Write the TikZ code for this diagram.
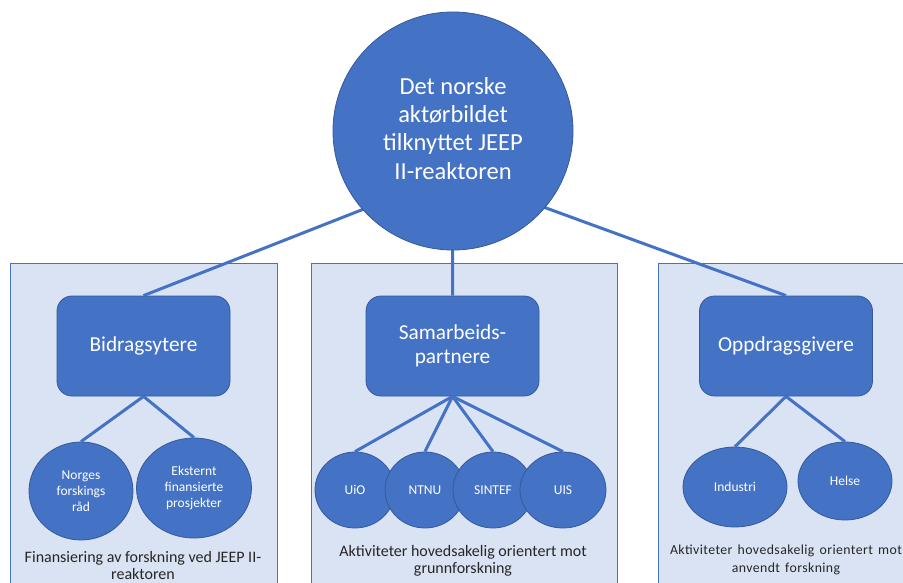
\documentclass[tikz,border=0pt]{standalone}
\usepackage{fontspec}
\setmainfont{Carlito}
\usetikzlibrary{shapes.geometric}
\definecolor{accent}{HTML}{4472C4}
\definecolor{accentdark}{HTML}{35599B}
\definecolor{panelfill}{HTML}{DAE3F3}
\definecolor{captiontext}{HTML}{262626}
\newcommand{\widecaptionfont}{\fontsize{13.8}{18.3}\selectfont
  \addfontfeature{LetterSpace=3}\spaceskip=5.2pt\relax}
\tikzset{
  px/.style={x=1pt,y=-1pt},
  panel/.style={draw=accent, line width=0.9pt, fill=panelfill},
  link/.style={draw=accent, line width=3pt},
  topnode/.style={ellipse, fill=accent, draw=accentdark, line width=0.8pt,
    minimum width=240pt, minimum height=238pt, inner sep=0pt,
    text=white, align=center, font=\fontsize{24.5}{28.3}\selectfont},
  groupbox/.style={rectangle, rounded corners=15pt, fill=accent, draw=accentdark,
    line width=0.8pt, minimum width=173pt, minimum height=100pt, inner sep=0pt,
    text=white, align=center, font=\fontsize{21.3}{23.5}\selectfont},
  member/.style={ellipse, fill=accent, draw=accentdark, line width=0.8pt,
    inner sep=0pt, text=white, align=center, font=\fontsize{13.5}{16}\selectfont},
  caption/.style={text=captiontext, align=center, inner sep=0pt}
}
\begin{document}
\begin{tikzpicture}[px]
\useasboundingbox (0,0) rectangle (903,583);
\clip (0,0) rectangle (903,583);

% background panels for the three groups
\draw[panel] (10,263) rectangle (277,600);
\draw[panel] (311,263) rectangle (617,600);
\draw[panel] (658,263) rectangle (920,600);

% central node and its three groups
\coordinate (hub) at (453,174);
\node[groupbox] (bidrag) at (143.5,346) {Bidragsytere};
\node[groupbox] (samarb) at (452.5,346) {Samarbeids-\\partnere};
\node[groupbox] (oppdrag) at (786,346) {Oppdragsgivere};

\draw[link] (hub) -- (bidrag.north);
\draw[link] (hub) -- (samarb.north);
\draw[link] (hub) -- (oppdrag.north);

\node[topnode] (top) at (453,131) {\raisebox{2pt}{\begin{tabular}{@{}c@{}}Det norske\\aktørbildet\\tilknyttet JEEP\\II-reaktoren\end{tabular}}};

% members of each group
\node[member, minimum width=104pt, minimum height=98pt] (nfr) at (81,491)
  {Norges\\forskings\\råd};
\node[member, minimum width=115pt, minimum height=100pt] (ekst) at (194,488)
  {Eksternt\\finansierte\\prosjekter};

\node[member, minimum width=80pt, minimum height=76pt] (uio) at (355,490) {UiO};
\node[member, minimum width=80pt, minimum height=76pt] (ntnu) at (425,490) {NTNU};
\node[member, minimum width=80pt, minimum height=76pt] (sintef) at (493,490) {SINTEF};
\node[member, minimum width=86pt, minimum height=76pt] (uis) at (563,490) {UIS};

\node[member, minimum width=104pt, minimum height=80pt] (ind) at (735,487) {Industri};
\node[member, minimum width=94pt, minimum height=78pt] (helse) at (845,481) {Helse};

% connectors from groups to members
\draw[link] (bidrag.south) -- (nfr.north);
\draw[link] (bidrag.south) -- (ekst.north);
\draw[link] (samarb.south) -- (uio.north);
\draw[link] (samarb.south) -- (ntnu.north);
\draw[link] (samarb.south) -- (sintef.north);
\draw[link] (samarb.south) -- (uis.north);
\draw[link] (oppdrag.south) -- (ind.north);
\draw[link] (oppdrag.south) -- (helse.north);

% captions
\node[caption, font=\fontsize{16}{17.2}\selectfont] (capL) at (143,565.5)
  {Finansiering av forskning ved JEEP II-\\reaktoren};
\node[caption, font=\fontsize{16}{17.4}\selectfont] (capM) at (463,561)
  {Aktiviteter hovedsakelig orientert mot\\grunnforskning};
\node[caption, font=\widecaptionfont] (capR) at (786,560)
  {Aktiviteter hovedsakelig orientert mot\\anvendt forskning};
\end{tikzpicture}
\end{document}
